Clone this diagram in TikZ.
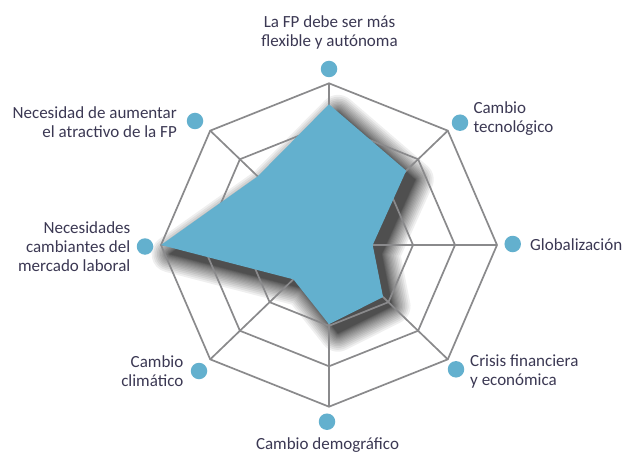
\documentclass[tikz,border=0pt]{standalone}
\usepackage{fontspec}
\setmainfont{Carlito}
\definecolor{blueA}{HTML}{63B0CE}
\definecolor{txtc}{HTML}{3B3853}
\definecolor{gridc}{HTML}{8A8A8C}
\begin{document}
\begin{tikzpicture}[x=1pt,y=-1pt,
  lbl/.style={font=\fontsize{17}{19}\selectfont, text=txtc, inner sep=0pt},
  dotnode/.style={circle, fill=blueA, minimum size=16.5pt, inner sep=0pt},
  gridline/.style={draw=gridc, line width=1.7pt, line join=miter},
  datapoly/.style={fill=blueA}]
\useasboundingbox[fill=white] (0,0) rectangle (636,454);
\begin{scope}[shift={(329,245)}, x=168pt, y=161.7pt]
  % shadow: stacked dilations of the offset polygon
  \begin{scope}[shift={(9pt,-9pt)}]
    \foreach \k in {0,...,16}{
      \begin{scope}[transparency group, opacity=0.062]
        \filldraw[black, line width={2*(0.05*\k*\k+0.35*\k)*1pt+0.1pt}, line join=round]
          (90:0.87) -- (45:0.65) -- (0:0.26) -- (-45:0.455) -- (-90:0.49) -- (-135:0.30) -- (180:1.0) -- (135:0.60) -- cycle;
      \end{scope}
    }
  \end{scope}
  % grid rings
  \foreach \r in {0.25,0.5,0.75,1}{
    \draw[gridline] (0:\r) -- (45:\r) -- (90:\r) -- (135:\r) -- (180:\r) -- (225:\r) -- (270:\r) -- (315:\r) -- cycle;
  }
  % spokes
  \foreach \a in {0,45,...,315}{
    \draw[gridline] (0,0) -- (\a:1);
  }
  % data
  \fill[datapoly] (90:0.87) -- (45:0.65) -- (0:0.26) -- (-45:0.455) -- (-90:0.49) -- (-135:0.30) -- (180:1.0) -- (135:0.60) -- cycle;
\end{scope}
% dots
\node[dotnode] (d1) at (329,69) {};
\node[dotnode] (d2) at (460,122.7) {};
\node[dotnode] (d3) at (512.7,244) {};
\node[dotnode] (d4) at (456,369.3) {};
\node[dotnode] (d5) at (327,421.7) {};
\node[dotnode] (d6) at (199,371) {};
\node[dotnode] (d7) at (145,246.5) {};
\node[dotnode] (d8) at (195,121) {};
% labels
\node[lbl, align=center] (l1) at (329.5,32.5) {La FP debe ser más\\flexible y autónoma};
\node[lbl, align=left, anchor=west] (l2) at (473.3,118.8) {Cambio\\tecnológico};
\node[lbl, align=left, anchor=west] (l3) at (530,244.5) {Globalización};
\node[lbl, align=left, anchor=west] (l4) at (470,371.2) {Crisis financiera\\y económica};
\node[lbl, align=center] (l5) at (327.5,445) {Cambio demográfico};
\node[lbl, align=right, anchor=east] (l6) at (183.5,371) {Cambio\\climático};
\node[lbl, align=right, anchor=east] (l7) at (130.5,247) {Necesidades\\cambiantes del\\mercado laboral};
\node[lbl, align=right, anchor=east] (l8) at (177,122.2) {Necesidad de aumentar\\el atractivo de la FP};
\end{tikzpicture}
\end{document}
